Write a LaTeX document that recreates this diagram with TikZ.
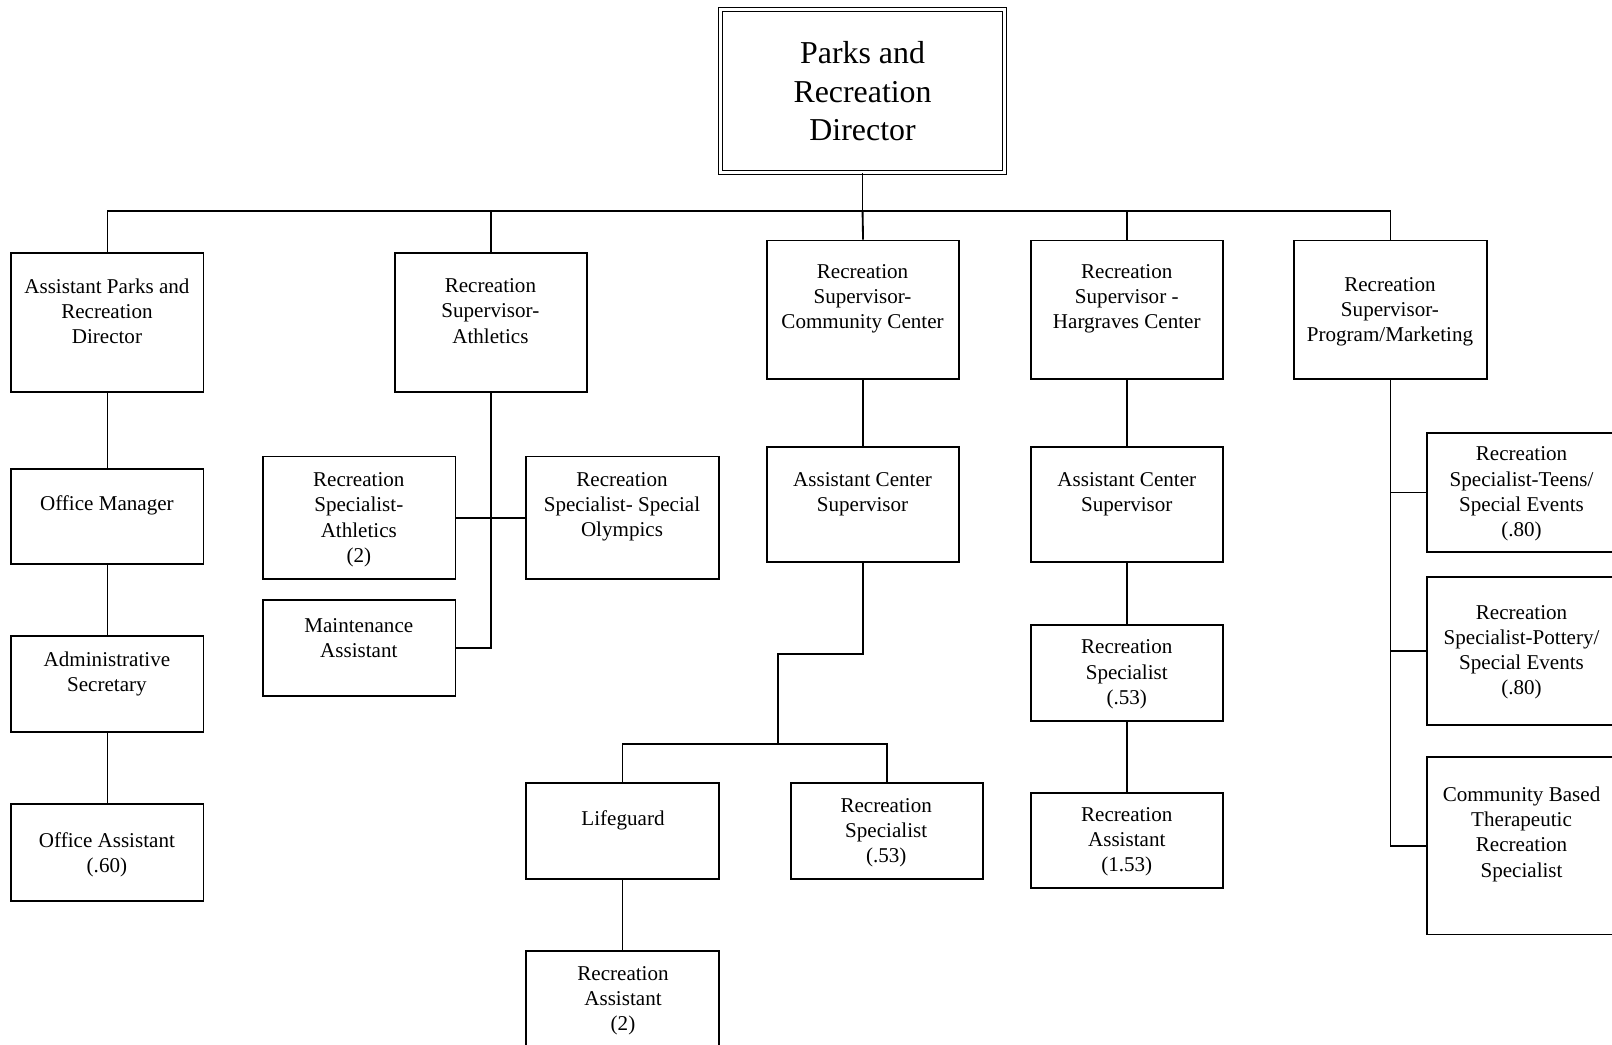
\documentclass[tikz,border=0pt]{standalone}
\usepackage{fontspec}
\setmainfont{Liberation Serif}
\begin{document}
\begin{tikzpicture}[x=1pt,y=-1pt,
  box/.style={draw, line width=1.8pt, minimum width=187pt, inner sep=0pt},
  txt/.style={align=center, inner sep=0pt, yshift=-2pt, font=\fontsize{20.5}{24.5}\selectfont},
  bigtxt/.style={align=center, inner sep=0pt, yshift=-1pt, font=\fontsize{31}{37.5}\selectfont},
  link/.style={line width=1.8pt}]
\useasboundingbox (0,0) rectangle (1568,1016);
% director
\node[draw, double, double distance=2.6pt, line width=1.3pt, minimum width=276pt, minimum height=159pt, inner sep=0pt] (dir) at (839,88.5) {};
\node[bigtxt] (dirt) at (839,88) {Parks and\\Recreation\\Director};
% level 1
\node[box, minimum height=135pt] (a1) at (104.5,313.5) {};
\node[txt] (a1t) at (104,300.5) {Assistant Parks and\\Recreation\\Director};
\node[box, minimum height=135pt] (a2) at (477.5,313.5) {};
\node[txt] (a2t) at (477,300.5) {Recreation\\Supervisor-\\Athletics};
\node[box, minimum height=135pt] (a3) at (839.5,301.5) {};
\node[txt] (a3t) at (839,288.5) {Recreation\\Supervisor-\\Community Center};
\node[box, minimum height=135pt] (a4) at (1096.5,301.5) {};
\node[txt] (a4t) at (1096,288.5) {Recreation\\Supervisor -\\Hargraves Center};
\node[box, minimum height=135pt] (a5) at (1352.5,301.5) {};
\node[txt] (a5t) at (1352,301.5) {Recreation\\Supervisor-\\Program/Marketing};
% column 1
\node[box, minimum height=93pt] (om) at (104.5,502.5) {};
\node[txt] (omt) at (104,490) {Office Manager};
\node[box, minimum height=93pt] (as) at (104.5,665.5) {};
\node[txt] (ast) at (104,653.5) {Administrative\\Secretary};
\node[box, minimum height=94pt] (oa) at (104.5,829) {};
\node[txt] (oat) at (104,829.5) {Office Assistant\\(.60)};
% column 2
\node[box, minimum height=119pt] (rsa) at (349.5,503.5) {};
\node[txt] (rsat) at (349,503.5) {Recreation\\Specialist-\\Athletics\\(2)};
\node[box, minimum height=119pt] (rso) at (605.5,503.5) {};
\node[txt] (rsot) at (605,491) {Recreation\\Specialist- Special\\Olympics};
\node[box, minimum height=93pt] (ma) at (349.5,630.5) {};
\node[txt] (mat) at (349,618.5) {Maintenance\\Assistant};
% column 3
\node[box, minimum height=112pt] (acs1) at (839.5,491) {};
\node[txt] (acs1t) at (839,478.5) {Assistant Center\\Supervisor};
\node[box, minimum height=93pt] (lg) at (605.5,808.5) {};
\node[txt] (lgt) at (606,796) {Lifeguard};
\node[box, minimum height=93pt] (rs1) at (862.5,808.5) {};
\node[txt] (rs1t) at (862,808) {Recreation\\Specialist\\(.53)};
\node[box, minimum height=100pt] (ra2) at (605.5,975) {};
\node[txt] (ra2t) at (606,971.5) {Recreation\\Assistant\\(2)};
% column 4
\node[box, minimum height=112pt] (acs2) at (1096.5,491) {};
\node[txt] (acs2t) at (1096,478.5) {Assistant Center\\Supervisor};
\node[box, minimum height=93pt] (rs2) at (1096.5,654.5) {};
\node[txt] (rs2t) at (1096,654) {Recreation\\Specialist\\(.53)};
\node[box, minimum height=93pt] (ra3) at (1096.5,817.5) {};
\node[txt] (ra3t) at (1096,817) {Recreation\\Assistant\\(1.53)};
% column 5
\node[box, minimum height=116pt] (teens) at (1481.5,479) {};
\node[txt] (teenst) at (1480,478.5) {Recreation\\Specialist-Teens/\\Special Events\\(.80)};
\node[box, minimum height=144pt] (pot) at (1481.5,633) {};
\node[txt] (pott) at (1480,632.5) {Recreation\\Specialist-Pottery/\\Special Events\\(.80)};
\node[box, minimum height=173pt] (cb) at (1481.5,822.5) {};
\node[txt] (cbt) at (1480,809.5) {Community Based\\Therapeutic\\Recreation\\Specialist};
% connectors
\coordinate (bus) at (839,205);
\draw[link] (dir.south) -- (bus);
\draw[link] (a1.north) |- (bus);
\draw[link] (a2.north) |- (bus);
\draw[link] (a5.north) |- (bus);
\draw[link] (a3.north) -- (bus);
\draw[link] (a4.north) -- (a4.north |- bus);
\draw[link] (a1.south) -- (om.north);
\draw[link] (om.south) -- (as.north);
\draw[link] (as.south) -- (oa.north);
\draw[link] (a2.south) |- (ma.east);
\draw[link] (rsa.east) -- (rso.west);
\draw[link] (a3.south) -- (acs1.north);
\coordinate (c1) at (757,636);
\coordinate (c2) at (757,724);
\draw[link] (acs1.south) |- (c1) -- (c2);
\draw[link] (lg.north) |- (c2) -| (rs1.north);
\draw[link] (lg.south) -- (ra2.north);
\draw[link] (a4.south) -- (acs2.north);
\draw[link] (acs2.south) -- (rs2.north);
\draw[link] (rs2.south) -- (ra3.north);
\draw[link] (a5.south) |- (cb.west);
\draw[link] (a5.south |- teens.west) -- (teens.west);
\draw[link] (a5.south |- pot.west) -- (pot.west);
\end{tikzpicture}
\end{document}
